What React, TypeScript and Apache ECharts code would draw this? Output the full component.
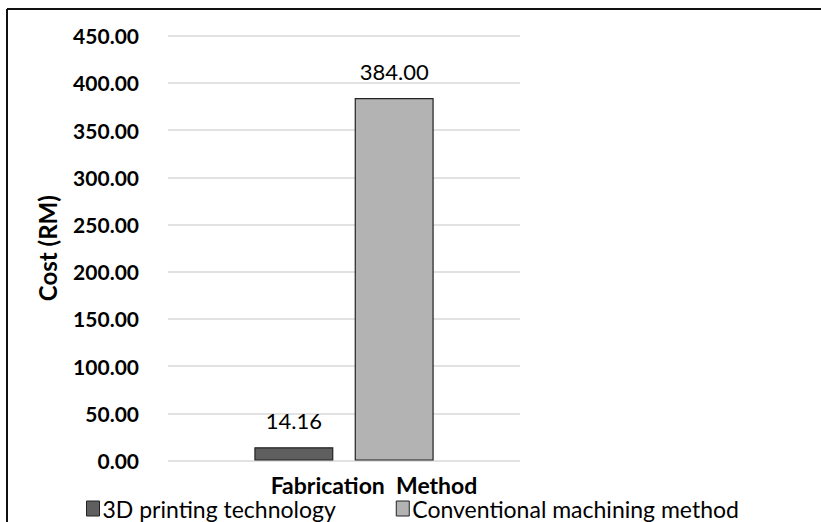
import React, { useEffect, useRef } from "react";
import * as echarts from "echarts";

const categories = ["Fabrication  Method"];
const seriesNames = ["3D printing technology", "Conventional machining method"];
const printingCost = [14.16];
const machiningCost = [384.0];
const yMin = 0;
const yMax = 450;
const yInterval = 50;

const FONT = "Lato, 'Open Sans', sans-serif";

export default function App() {
  const ref = useRef<HTMLDivElement>(null);
  useEffect(() => {
    if (!ref.current) return;
    const chart = echarts.init(ref.current, null, { renderer: "svg" });
    chart.setOption({
      animation: false,
      backgroundColor: "#ffffff",
      textStyle: { fontFamily: FONT, color: "#000" },
      grid: { left: 168, right: 301, top: 35.7, bottom: 61.4 },
      graphic: [
        { type: "line", shape: { x1: 7, y1: 9, x2: 821, y2: 9 }, style: { stroke: "#111", lineWidth: 2 } },
        { type: "line", shape: { x1: 7, y1: 9, x2: 7, y2: 522 }, style: { stroke: "#111", lineWidth: 2 } },
      ],
      legend: {
        left: 86,
        top: 497,
        padding: 0,
        itemWidth: 13,
        itemHeight: 15,
        itemGap: 60,
        itemStyle: { borderColor: "#222", borderWidth: 1 },
        textStyle: { fontFamily: FONT, fontSize: 23, lineHeight: 20, color: "#000", padding: [0, 0, 0, -2] },
        data: seriesNames.map((n) => ({ name: n, icon: "rect" })),
      },
      xAxis: {
        type: "category",
        data: categories,
        axisLine: { show: false },
        axisTick: { show: false },
        axisLabel: {
          fontFamily: FONT,
          fontSize: 23,
          fontWeight: "bold",
          color: "#000",
          margin: 13,
          padding: [0, 0, 0, 60],
        },
      },
      yAxis: {
        type: "value",
        min: yMin,
        max: yMax,
        interval: yInterval,
        name: "Cost (RM)",
        nameLocation: "middle",
        nameGap: 109,
        nameTextStyle: { fontFamily: FONT, fontSize: 24, fontWeight: "bold", color: "#000" },
        axisLine: { show: false },
        axisTick: { show: false },
        axisLabel: {
          fontFamily: FONT,
          fontSize: 21,
          fontWeight: "bold",
          color: "#000",
          margin: 29,
          formatter: (v: number) => v.toFixed(2),
        },
        splitLine: { lineStyle: { color: "#d9d9d9", width: 1.5 } },
      },
      series: [
        {
          name: seriesNames[0],
          type: "bar",
          data: printingCost,
          barWidth: 79,
          barGap: "27%",
          itemStyle: { color: "#5f5f5f", borderColor: "#222", borderWidth: 1.2 },
          label: {
            show: true,
            position: "top",
            distance: 16,
            fontFamily: FONT,
            fontSize: 22,
            color: "#000",
            formatter: (p: any) => p.value.toFixed(2),
          },
        },
        {
          name: seriesNames[1],
          type: "bar",
          data: machiningCost,
          barWidth: 79,
          barGap: "27%",
          itemStyle: { color: "#b3b3b3", borderColor: "#222", borderWidth: 1.2 },
          label: {
            show: true,
            position: "top",
            distance: 16,
            fontFamily: FONT,
            fontSize: 22,
            color: "#000",
            formatter: (p: any) => p.value.toFixed(2),
          },
        },
      ],
    });
    return () => chart.dispose();
  }, []);
  return (
    <div
      ref={ref}
      style={{ position: "fixed", left: 0, top: 0, width: 821, height: 522 }}
    />
  );
}
